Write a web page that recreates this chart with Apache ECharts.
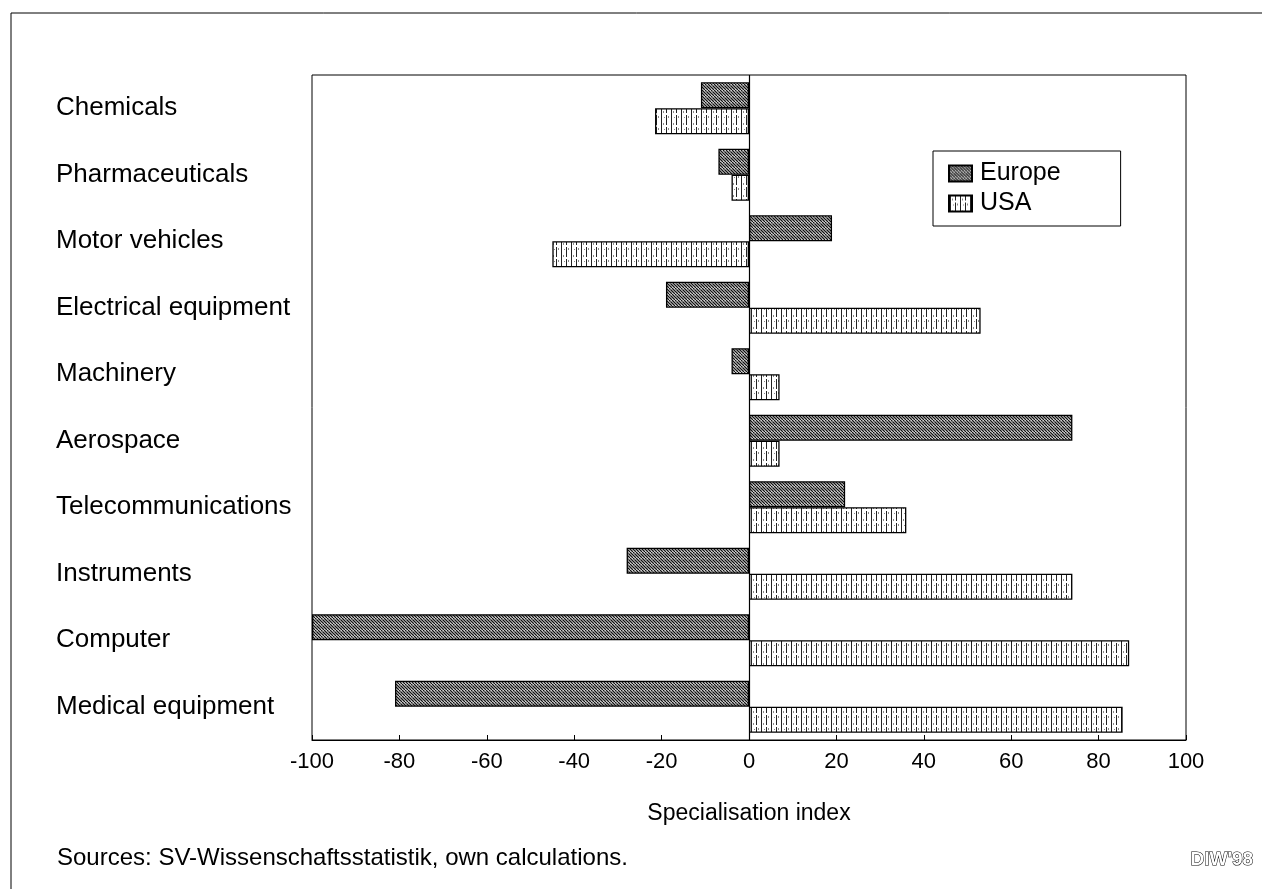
<!DOCTYPE html>
<html>
<head>
<meta charset="utf-8">
<script src="https://cdn.jsdelivr.net/npm/echarts@6/dist/echarts.min.js"></script>
<style>
    html, body { margin: 0; padding: 0; background: #fff; }
    #chart { width: 1262px; height: 889px; }
</style>
</head>
<body>
<div id="chart"></div>
<script>
const categories = ['Chemicals', 'Pharmaceuticals', 'Motor vehicles', 'Electrical equipment', 'Machinery',
    'Aerospace', 'Telecommunications', 'Instruments', 'Computer', 'Medical equipment'];
const europe = [-11, -7, 19, -19, -4, 74, 22, -28, -100, -81];
const usa = [-21.5, -4, -45, 53, 7, 7, 36, 74, 87, 85.5];
const xTicks = [-100, -80, -60, -40, -20, 0, 20, 40, 60, 80, 100];

const FONT = 'Liberation Sans, Arial, sans-serif';

// hatch patterns drawn on small canvases
function europePattern() {
    const c = document.createElement('canvas');
    c.width = 6; c.height = 6;
    const g = c.getContext('2d');
    g.fillStyle = '#fff';
    g.fillRect(0, 0, 6, 6);
    g.strokeStyle = '#111';
    g.lineWidth = 1.3;
    for (let k = -6; k <= 12; k += 3) {
        g.beginPath();
        g.moveTo(k, 0);
        g.lineTo(k + 6, 6);
        g.stroke();
    }
    g.fillStyle = '#555';
    g.fillRect(4, 1, 1, 1);
    return c;
}

function usaPattern() {
    const c = document.createElement('canvas');
    c.width = 10; c.height = 12;
    const g = c.getContext('2d');
    g.fillStyle = '#fff';
    g.fillRect(0, 0, 10, 12);
    g.fillStyle = '#222';
    g.fillRect(1, 0, 1, 12);
    g.fillRect(6, 0, 1, 5);
    g.fillRect(6, 7, 1, 5);
    g.fillStyle = '#888';
    g.fillRect(3, 3, 1, 2);
    g.fillRect(8, 8, 1, 2);
    g.fillRect(4, 9, 1, 1);
    return c;
}

const chart = echarts.init(document.getElementById('chart'), null, { renderer: 'canvas' });

chart.setOption({
    animation: false,
    backgroundColor: '#fff',
    textStyle: { fontFamily: FONT, color: '#000' },
    grid: {
        left: 312,
        right: 76,
        top: 75,
        bottom: 149,
        show: true,
        borderColor: '#000',
        borderWidth: 1
    },
    legend: {
        orient: 'vertical',
        left: 933,
        top: 151,
        data: ['Europe', 'USA'],
        icon: 'rect',
        itemWidth: 23,
        itemHeight: 16,
        itemGap: 5,
        padding: [10, 60, 10, 15],
        backgroundColor: '#fff',
        borderColor: '#000',
        borderWidth: 1,
        borderRadius: 0,
        textStyle: { fontSize: 25, color: '#000', fontFamily: FONT, padding: [0, 0, 0, 3] }
    },
    xAxis: {
        type: 'value',
        min: -100,
        max: 100,
        interval: 20,
        name: 'Specialisation index',
        nameLocation: 'middle',
        nameGap: 62,
        nameTextStyle: { fontSize: 23, color: '#000', fontFamily: FONT },
        axisLine: { show: true, lineStyle: { color: '#000', width: 1 } },
        axisTick: { show: true, inside: true, length: 5, lineStyle: { color: '#000' } },
        axisLabel: {
            fontSize: 22, color: '#000', margin: 11, fontFamily: FONT,
            formatter: (v) => xTicks.includes(v) ? String(v) : ''
        },
        splitLine: { show: false }
    },
    yAxis: {
        type: 'category',
        data: categories,
        inverse: true,
        axisLine: { show: false },
        axisTick: { show: false },
        axisLabel: {
            align: 'left',
            margin: 256,
            fontSize: 26,
            color: '#000',
            fontFamily: FONT
        }
    },
    series: [
        {
            name: 'Europe',
            type: 'bar',
            data: europe,
            barWidth: 26,
            barGap: '0%',
            barCategoryGap: '22%',
            itemStyle: {
                color: { image: europePattern(), repeat: 'repeat' },
                borderColor: '#000',
                borderWidth: 1.3
            },
            markLine: {
                silent: true,
                symbol: 'none',
                label: { show: false },
                lineStyle: { color: '#000', type: 'solid', width: 1.2 },
                data: [{ xAxis: 0 }]
            }
        },
        {
            name: 'USA',
            type: 'bar',
            data: usa,
            barWidth: 26,
            barGap: '0%',
            itemStyle: {
                color: { image: usaPattern(), repeat: 'repeat' },
                borderColor: '#000',
                borderWidth: 1.3
            }
        }
    ],
    graphic: [
        { type: 'line', shape: { x1: 11, y1: 13, x2: 1262, y2: 13 }, style: { stroke: '#000', lineWidth: 1 } },
        { type: 'line', shape: { x1: 11, y1: 13, x2: 11, y2: 889 }, style: { stroke: '#000', lineWidth: 1 } },
        {
            type: 'text', left: 57, top: 846,
            style: { text: 'Sources: SV-Wissenschaftsstatistik, own calculations.', font: '24px ' + FONT, fill: '#000' }
        },
        {
            type: 'text', left: 1190, top: 850,
            style: { text: "DIW'98", font: 'bold 19px ' + FONT, fill: '#fff', stroke: '#000', lineWidth: 1 }
        }
    ]
});
</script>
</body>
</html>
